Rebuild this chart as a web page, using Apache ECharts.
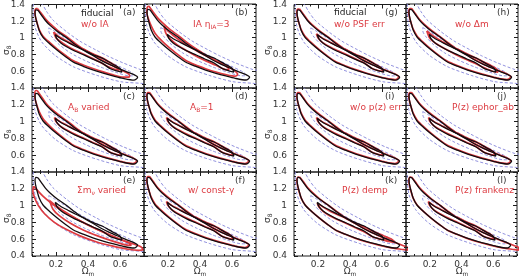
<!DOCTYPE html>
<html>
<head>
<meta charset="utf-8">
<script src="https://cdn.jsdelivr.net/npm/echarts@6/dist/echarts.min.js"></script>
<style>
html, body { margin: 0; padding: 0; background: #fff; }
.layer { position: absolute; left: 0; top: 0; width: 520px; height: 278px; }
</style>
</head>
<body>
<div id="stage"></div>
<script>
// tick labels
var xTickVals = [0.2, 0.4, 0.6];
var yTickVals = [0.4, 0.6, 0.8, 1, 1.2, 1.4];

// panels
var panelTags = ['(a)', '(b)', '(c)', '(d)', '(e)', '(f)', '(g)', '(h)', '(i)', '(j)', '(k)', '(l)'];
var panelCaptions = ['w/o IA', 'IA \u03b7{s|IA}=3', 'A{s|B} varied', 'A{s|B}=1', '\u03a3m{s|\u03bd} varied', 'w/ const-\u03b3',
                     'w/o PSF err', 'w/o \u0394m', 'w/o p(z) err', 'P(z) ephor_ab', 'P(z) demp', 'P(z) frankenz'];

// fiducial contours (Omega_m, sigma_8), black
var fidOuter = [
  [0.088, 1.33], [0.11, 1.27], [0.135, 1.205], [0.163, 1.15], [0.21, 1.075], [0.271, 0.995],
  [0.32, 0.92], [0.372, 0.852], [0.43, 0.79], [0.479, 0.733], [0.53, 0.685], [0.586, 0.638],
  [0.64, 0.595], [0.687, 0.56], [0.71, 0.53], [0.70, 0.505], [0.687, 0.495], [0.62, 0.515],
  [0.561, 0.543], [0.50, 0.575], [0.435, 0.614], [0.37, 0.66], [0.309, 0.71], [0.26, 0.775],
  [0.208, 0.852], [0.16, 0.93], [0.119, 1.007], [0.095, 1.09], [0.082, 1.174], [0.072, 1.25],
  [0.069, 1.305], [0.075, 1.335], [0.088, 1.33]
];
var fidInner = [
  [0.195, 1.04], [0.23, 0.99], [0.272, 0.948], [0.32, 0.9], [0.377, 0.852], [0.43, 0.80],
  [0.488, 0.757], [0.55, 0.69], [0.599, 0.638], [0.612, 0.59], [0.58, 0.605], [0.54, 0.63],
  [0.488, 0.698], [0.43, 0.745], [0.377, 0.793], [0.32, 0.84], [0.272, 0.888], [0.23, 0.94],
  [0.205, 0.99], [0.195, 1.04]
];

// wider contours, blue dashed
var blueOuter = [
  [0.08, 1.45], [0.115, 1.40], [0.14, 1.32], [0.18, 1.215], [0.269, 1.07], [0.35, 0.96],
  [0.45, 0.855], [0.521, 0.785], [0.62, 0.70], [0.73, 0.62], [0.80, 0.585],
  [0.80, 0.44], [0.73, 0.456], [0.605, 0.475], [0.458, 0.55], [0.309, 0.654], [0.195, 0.79],
  [0.111, 0.951], [0.069, 1.13], [0.058, 1.33], [0.062, 1.45], [0.08, 1.45]
];
var blueInner = [
  [0.155, 1.12], [0.19, 1.08], [0.24, 1.02], [0.30, 0.95], [0.40, 0.84], [0.50, 0.745],
  [0.60, 0.655], [0.67, 0.59], [0.69, 0.55], [0.66, 0.545], [0.57, 0.59], [0.48, 0.65],
  [0.38, 0.73], [0.29, 0.82], [0.22, 0.92], [0.175, 1.01], [0.155, 1.08], [0.155, 1.12]
];

// red contours of the variants
var redOuterNear = [
  [0.085, 1.345], [0.11, 1.28], [0.135, 1.215], [0.163, 1.16], [0.21, 1.085], [0.271, 1.0],
  [0.32, 0.93], [0.372, 0.86], [0.43, 0.795], [0.479, 0.74], [0.53, 0.69], [0.586, 0.64],
  [0.64, 0.6], [0.685, 0.565], [0.705, 0.535], [0.695, 0.51], [0.68, 0.5], [0.62, 0.518],
  [0.561, 0.547], [0.5, 0.58], [0.435, 0.62], [0.37, 0.667], [0.309, 0.718], [0.26, 0.782],
  [0.208, 0.86], [0.16, 0.94], [0.119, 1.02], [0.095, 1.1], [0.08, 1.185], [0.07, 1.26],
  [0.067, 1.315], [0.073, 1.345], [0.085, 1.345]
];
var redInnerNear = [
  [0.19, 1.05], [0.225, 1.0], [0.27, 0.955], [0.32, 0.905], [0.377, 0.857], [0.43, 0.806],
  [0.488, 0.76], [0.55, 0.695], [0.595, 0.642], [0.607, 0.597], [0.575, 0.61], [0.535, 0.637],
  [0.488, 0.703], [0.43, 0.752], [0.377, 0.8], [0.32, 0.848], [0.27, 0.897], [0.225, 0.95],
  [0.2, 1.0], [0.19, 1.05]
];
var redOuterA = [
  [0.085, 1.35], [0.11, 1.29], [0.135, 1.225], [0.163, 1.17], [0.21, 1.09], [0.271, 1.01],
  [0.32, 0.935], [0.372, 0.865], [0.43, 0.8], [0.479, 0.745], [0.53, 0.69], [0.58, 0.64],
  [0.63, 0.595], [0.66, 0.555], [0.655, 0.53], [0.62, 0.53], [0.561, 0.555], [0.5, 0.59],
  [0.435, 0.63], [0.37, 0.675], [0.309, 0.725], [0.26, 0.79], [0.208, 0.865], [0.16, 0.945],
  [0.119, 1.02], [0.095, 1.1], [0.08, 1.19], [0.07, 1.27], [0.068, 1.32], [0.075, 1.35], [0.085, 1.35]
];
var redInnerA = [
  [0.185, 1.07], [0.22, 1.015], [0.27, 0.96], [0.32, 0.91], [0.377, 0.86], [0.43, 0.81],
  [0.49, 0.76], [0.545, 0.7], [0.585, 0.65], [0.595, 0.615], [0.565, 0.625], [0.52, 0.66],
  [0.47, 0.715], [0.41, 0.77], [0.35, 0.825], [0.29, 0.88], [0.24, 0.94], [0.2, 1.0], [0.185, 1.07]
];
var redOuterB = [
  [0.08, 1.375], [0.105, 1.31], [0.135, 1.235], [0.163, 1.18], [0.21, 1.1], [0.271, 1.015],
  [0.32, 0.94], [0.372, 0.87], [0.43, 0.8], [0.479, 0.745], [0.53, 0.695], [0.58, 0.65],
  [0.62, 0.6], [0.635, 0.56], [0.62, 0.54], [0.56, 0.56], [0.5, 0.59], [0.435, 0.63],
  [0.37, 0.675], [0.309, 0.73], [0.26, 0.8], [0.208, 0.88], [0.16, 0.965], [0.12, 1.05],
  [0.095, 1.14], [0.078, 1.22], [0.068, 1.3], [0.07, 1.36], [0.08, 1.375]
];
var redInnerB = [
  [0.175, 1.14], [0.2, 1.08], [0.25, 1.0], [0.3, 0.93], [0.36, 0.865], [0.42, 0.8],
  [0.48, 0.745], [0.54, 0.69], [0.575, 0.645], [0.58, 0.615], [0.55, 0.625], [0.5, 0.67],
  [0.44, 0.72], [0.38, 0.775], [0.32, 0.84], [0.26, 0.91], [0.21, 0.99], [0.185, 1.06], [0.175, 1.14]
];
var redOuterC = [
  [0.082, 1.37], [0.108, 1.3], [0.135, 1.225], [0.163, 1.165], [0.21, 1.09], [0.271, 1.005],
  [0.32, 0.932], [0.372, 0.862], [0.43, 0.797], [0.479, 0.742], [0.53, 0.692], [0.586, 0.642],
  [0.64, 0.6], [0.685, 0.565], [0.705, 0.535], [0.695, 0.51], [0.68, 0.5], [0.62, 0.518],
  [0.561, 0.547], [0.5, 0.58], [0.435, 0.62], [0.37, 0.667], [0.309, 0.718], [0.26, 0.785],
  [0.208, 0.865], [0.16, 0.95], [0.119, 1.035], [0.095, 1.12], [0.078, 1.21], [0.068, 1.29],
  [0.068, 1.345], [0.074, 1.37], [0.082, 1.37]
];
var redOuterE = [
  [0.06, 1.23], [0.08, 1.19], [0.12, 1.11], [0.17, 1.03], [0.22, 0.96], [0.3, 0.87],
  [0.4, 0.77], [0.5, 0.68], [0.6, 0.6], [0.68, 0.545], [0.73, 0.51], [0.745, 0.475],
  [0.72, 0.468], [0.65, 0.48], [0.55, 0.52], [0.45, 0.57], [0.35, 0.64], [0.26, 0.72],
  [0.19, 0.8], [0.13, 0.9], [0.09, 1.0], [0.065, 1.1], [0.055, 1.18], [0.06, 1.23]
];
var redInnerE = [
  [0.16, 1.06], [0.2, 1.0], [0.26, 0.92], [0.33, 0.84], [0.42, 0.75], [0.52, 0.665],
  [0.6, 0.6], [0.66, 0.55], [0.67, 0.525], [0.63, 0.535], [0.55, 0.58], [0.46, 0.64],
  [0.37, 0.71], [0.29, 0.79], [0.22, 0.88], [0.18, 0.96], [0.16, 1.06]
];
var redInnerH = [
  [0.18, 1.08], [0.22, 1.02], [0.27, 0.96], [0.33, 0.9], [0.39, 0.845], [0.45, 0.79],
  [0.51, 0.735], [0.57, 0.68], [0.61, 0.635], [0.625, 0.59], [0.59, 0.6], [0.54, 0.64],
  [0.48, 0.695], [0.42, 0.745], [0.36, 0.8], [0.3, 0.86], [0.245, 0.92], [0.2, 0.99], [0.18, 1.08]
];
var redOuterK = [
  [0.085, 1.34], [0.11, 1.28], [0.135, 1.215], [0.163, 1.16], [0.21, 1.08], [0.271, 0.995],
  [0.32, 0.925], [0.372, 0.855], [0.43, 0.79], [0.479, 0.735], [0.53, 0.685], [0.586, 0.635],
  [0.64, 0.59], [0.69, 0.555], [0.73, 0.525], [0.76, 0.5], [0.76, 0.47], [0.72, 0.48],
  [0.65, 0.5], [0.58, 0.53], [0.5, 0.57], [0.435, 0.61], [0.37, 0.658], [0.309, 0.71],
  [0.26, 0.775], [0.208, 0.852], [0.16, 0.93], [0.119, 1.01], [0.095, 1.09], [0.08, 1.18],
  [0.07, 1.26], [0.068, 1.31], [0.075, 1.34], [0.085, 1.34]
];
var redInnerK = [
  [0.195, 1.03], [0.23, 0.985], [0.27, 0.94], [0.32, 0.895], [0.377, 0.845], [0.43, 0.795],
  [0.49, 0.745], [0.55, 0.69], [0.61, 0.64], [0.66, 0.6], [0.68, 0.565], [0.65, 0.57],
  [0.6, 0.595], [0.54, 0.63], [0.488, 0.69], [0.43, 0.74], [0.377, 0.788], [0.32, 0.835],
  [0.27, 0.882], [0.23, 0.935], [0.205, 0.985], [0.195, 1.03]
];

var redOuters = [redOuterA, redOuterB, redOuterC, redOuterNear, redOuterE, redOuterNear,
                 redOuterNear, redOuterNear, redOuterNear, redOuterNear, redOuterK, redOuterK];
var redInners = [redInnerA, redInnerB, redInnerNear, redInnerNear, redInnerE, redInnerNear,
                 redInnerNear, redInnerH, redInnerNear, redInnerNear, redInnerK, redInnerNear];

var colLeft = [32, 144, 294, 406];
var rowTop = [4, 88, 172];
var pw = 112, ph = 84;
var ink = '#1c1c1c';
var labCol = '#333';
var redCol = '#dc3a40';
var blueCol = '#8585da';
var blackCol = '#140c10';
var fnt = 'DejaVu Sans';

function newChart() {
  var d = document.createElement('div');
  d.className = 'layer';
  document.getElementById('stage').appendChild(d);
  return echarts.init(d);
}

function fmtY(v) {
  return Math.abs(v - 1) < 1e-6 ? '1' : v.toFixed(1);
}

function contour(data, color, width, dashed, z) {
  return {
    type: 'line',
    data: data,
    showSymbol: false,
    smooth: 0.25,
    silent: true,
    z: z,
    lineStyle: { color: color, width: width, type: dashed ? [3, 2] : 'solid' }
  };
}

// minor ticks (with labels) or major ticks on one side of a panel
function xAx(pos, showLab, major) {
  var a = {
    type: 'value', min: 0.05, max: 0.75, position: pos,
    axisLine: { show: false }, splitLine: { show: false },
    axisLabel: { show: false }
  };
  if (major) {
    a.axisTick = { inside: true, length: 4, customValues: xTickVals, lineStyle: { color: ink } };
  } else {
    a.interval = 0.05;
    a.axisTick = { inside: true, length: 2, lineStyle: { color: ink } };
    a.axisLabel = {
      show: showLab,
      formatter: function (v) {
        var r = Math.round(v * 100);
        return (r === 20 || r === 40 || r === 60) ? (r / 100).toFixed(1) : '';
      },
      color: labCol, fontSize: 9, fontFamily: fnt, margin: 4
    };
  }
  return a;
}

function yAx(pos, showLab, major, bottomRow) {
  var a = {
    type: 'value', min: 0.4, max: 1.4, position: pos,
    axisLine: { show: false }, splitLine: { show: false },
    axisLabel: { show: false }
  };
  if (major) {
    a.axisTick = { inside: true, length: 4, customValues: yTickVals, lineStyle: { color: ink } };
  } else {
    a.interval = 0.05;
    a.axisTick = { inside: true, length: 2, lineStyle: { color: ink } };
    a.axisLabel = {
      show: showLab,
      formatter: function (v) {
        var r = Math.round(v * 100);
        if (r % 20 !== 0) return '';
        if (r === 40 && !bottomRow) return '';
        return fmtY(r / 100);
      },
      color: labCol, fontSize: 9, fontFamily: fnt, margin: 7
    };
  }
  return a;
}

function panelOption(g) {
  var half = g < 6 ? 0 : 2;
  var k = g % 6;
  var col = half + (k % 2);
  var row = Math.floor(k / 2);
  var left = colLeft[col], top = rowTop[row];
  var showX = row === 2, showY = (k % 2) === 0;

  return {
    animation: false,
    grid: { left: left, top: top, width: pw, height: ph, show: true, borderColor: ink, borderWidth: 1 },
    xAxis: [xAx('bottom', showX, false), xAx('top', false, false),
            xAx('bottom', false, true), xAx('top', false, true)],
    yAxis: [yAx('left', showY, false, row === 2), yAx('right', false, false, row === 2),
            yAx('left', false, true), yAx('right', false, true)],
    series: [
      contour(blueOuter, blueCol, 0.9, true, 1),
      contour(blueInner, blueCol, 0.9, true, 1),
      contour(redOuters[g], redCol, 1.7, false, 2),
      contour(redInners[g], redCol, 1.7, false, 2),
      contour(fidOuter, blackCol, 1.3, false, 3),
      contour(fidInner, blackCol, 1.3, false, 3)
    ],
    graphic: [{
      type: 'text', left: left + pw - 21, top: top + 4,
      style: { text: panelTags[g], fill: labCol, font: '9px "DejaVu Sans"' }
    }]
  };
}

for (var g = 0; g < 12; g++) {
  newChart().setOption(panelOption(g));
}

// captions and axis titles
var capPos = [[81, 20], [193, 20], [68, 103], [190, 103], [77, 186], [188, 186],
              [334, 20], [455, 20], [350, 103], [452, 103], [342, 186], [455, 186]];
var subRed = { s: { fontSize: 6, fill: redCol, fontFamily: fnt, verticalAlign: 'bottom', padding: [5, 0, 0, 0] } };
var subInk = { s: { fontSize: 6, fill: labCol, fontFamily: fnt, verticalAlign: 'bottom', padding: [5, 0, 0, 0] } };
var texts = [];
panelCaptions.forEach(function (t, i) {
  texts.push({ type: 'text', left: capPos[i][0], top: capPos[i][1],
    style: { text: t, fill: redCol, font: '9px "DejaVu Sans"', rich: subRed } });
});
texts.push({ type: 'text', left: 81, top: 9, style: { text: 'fiducial', fill: '#222', font: '9px "DejaVu Sans"' } });
texts.push({ type: 'text', left: 334, top: 8, style: { text: 'fiducial', fill: '#222', font: '9px "DejaVu Sans"' } });
[88, 200, 350, 462].forEach(function (cx) {
  texts.push({ type: 'text', x: cx, y: 266,
    style: { text: '\u03a9{s|m}', fill: labCol, font: '9px "DejaVu Sans"', rich: subInk, align: 'center' } });
});
[0, 1, 2].forEach(function (r) {
  [1, 262].forEach(function (cx) {
    texts.push({ type: 'text', x: cx, y: rowTop[r] + 51, rotation: Math.PI / 2,
      style: { text: '\u03c3{s|8}', fill: labCol, font: '9px "DejaVu Sans"', rich: subInk } });
  });
});
newChart().setOption({ animation: false, graphic: texts });
</script>
</body>
</html>
